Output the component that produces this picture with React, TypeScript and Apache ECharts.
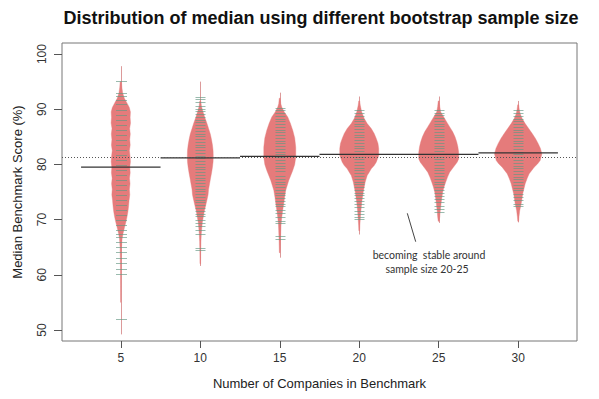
import React, { useEffect, useRef } from "react";
import * as echarts from "echarts";

// ---------- data ----------
const sampleSizes = ["5", "10", "15", "20", "25", "30"];
const beanPositions = [1, 2, 3, 4, 5, 6];
const yTickValues = [50, 60, 70, 80, 90, 100];
const beanMedians = [79.5, 81.2, 81.45, 81.8, 81.8, 82.1];
const overallMedian = 81.3;
const beanMin = [49.2, 61.6, 63.1, 67.3, 69.4, 69.5];
const beanMax = [97.8, 95.0, 93.0, 92.3, 92.3, 91.5];

// density outlines: levels (score) and half widths (x-axis units)
const bean1Levels = [95, 94, 93, 92, 91, 90.3, 89.5, 88.5, 87.5, 86.5, 85.5, 84.5, 83.5, 82.5, 81.5, 80.5, 79.5, 78.5, 77.5, 76.5, 75.5, 74.5, 73.5, 72.5, 71.5, 70.5, 69.5, 68.5, 67.5, 66.5, 65, 63, 61, 58, 55];
const bean1Widths = [0.008, 0.013, 0.023, 0.044, 0.082, 0.107, 0.121, 0.117, 0.122, 0.111, 0.119, 0.112, 0.118, 0.108, 0.116, 0.121, 0.113, 0.118, 0.109, 0.116, 0.108, 0.113, 0.104, 0.098, 0.09, 0.078, 0.063, 0.045, 0.028, 0.016, 0.009, 0.006, 0.004, 0.003, 0.002];
const bean2Levels = [91.5, 90.5, 89.5, 88.5, 87.5, 86.5, 85.5, 84.5, 83.5, 82.5, 81.5, 80.5, 79.5, 78.5, 77.5, 76.5, 75.5, 74.5, 73.5, 72.5, 71.5, 70.5, 69.5, 68.5, 67.5, 66, 64, 62];
const bean2Widths = [0.006, 0.015, 0.035, 0.057, 0.082, 0.104, 0.126, 0.141, 0.153, 0.161, 0.163, 0.161, 0.153, 0.142, 0.129, 0.117, 0.104, 0.098, 0.083, 0.067, 0.05, 0.038, 0.026, 0.019, 0.013, 0.008, 0.005, 0.004];
const bean3Levels = [92, 91, 90.4, 89.5, 88.6, 87.5, 86.2, 84.8, 83.1, 81.3, 80, 78.9, 77.1, 75.3, 74, 72.9, 71.5, 70.4, 69, 68, 66, 64];
const bean3Widths = [0.006, 0.013, 0.025, 0.057, 0.1, 0.132, 0.163, 0.188, 0.201, 0.201, 0.188, 0.163, 0.113, 0.075, 0.06, 0.05, 0.035, 0.025, 0.016, 0.013, 0.008, 0.005];
const bean4Levels = [91.5, 90.7, 89.5, 88.3, 87.4, 86.5, 85.6, 84.7, 83.8, 82.9, 81.6, 80.4, 79.8, 79.2, 78.6, 78, 76.8, 75, 73.1, 71.3, 70.1, 69, 68];
const bean4Widths = [0.006, 0.013, 0.031, 0.063, 0.1, 0.151, 0.188, 0.214, 0.236, 0.245, 0.245, 0.214, 0.188, 0.151, 0.126, 0.1, 0.075, 0.05, 0.031, 0.019, 0.013, 0.008, 0.005];
const bean5Levels = [91.5, 90.5, 89.5, 88.6, 87.7, 86.8, 85.9, 85, 84.1, 83.2, 82.2, 81, 80.4, 79.8, 79.2, 78.6, 77.7, 76.8, 75.9, 75, 73.1, 71.5, 70.5, 69.7];
const bean5Widths = [0.006, 0.013, 0.025, 0.063, 0.1, 0.138, 0.176, 0.205, 0.226, 0.241, 0.251, 0.251, 0.232, 0.201, 0.17, 0.138, 0.111, 0.088, 0.067, 0.05, 0.031, 0.019, 0.013, 0.006];
const bean6Levels = [90.8, 90, 89.2, 88.3, 87.4, 86.5, 85.6, 84.7, 83.8, 82.9, 81.9, 80.7, 80.1, 79.5, 78.9, 78.3, 77.4, 76.5, 74.7, 72.9, 71.6, 70.5, 69.7];
const bean6Widths = [0.006, 0.013, 0.025, 0.05, 0.088, 0.132, 0.176, 0.217, 0.251, 0.28, 0.298, 0.276, 0.245, 0.201, 0.17, 0.138, 0.111, 0.088, 0.057, 0.038, 0.019, 0.01, 0.005];

// bootstrap medians (bean lines)
const bean1Ticks = [95.1, 93.0, 92.4, 91.6, 91.0, 89.8, 88.9, 88.0, 87.1, 86.2, 85.3, 84.4, 83.5, 82.6, 81.7, 80.8, 79.9, 79.0, 78.1, 77.2, 76.3, 75.4, 74.5, 73.6, 72.7, 71.8, 70.9, 70.0, 69.1, 68.2, 67.3, 66.8, 65.9, 65.0, 64.1, 63.1, 62.1, 61.0, 60.1, 52.0];
const bean2Ticks = [92.2, 91.8, 91.3, 90.6, 90.1, 89.6, 89.1, 88.6, 88.1, 87.6, 87.1, 86.6, 86.1, 85.6, 85.1, 84.6, 84.1, 83.6, 83.1, 82.6, 82.1, 81.6, 81.1, 80.6, 80.1, 79.6, 79.1, 78.6, 78.1, 77.6, 77.1, 76.6, 76.1, 75.6, 75.1, 74.6, 74.1, 73.6, 73.1, 72.6, 72.1, 71.6, 71.1, 70.6, 70.0, 69.3, 68.8, 68.1, 67.4, 64.8, 64.4];
const bean3Ticks = [90.3, 89.8, 89.3, 88.8, 88.3, 87.8, 87.3, 86.8, 86.3, 85.8, 85.3, 84.8, 84.3, 83.8, 83.3, 82.8, 82.3, 81.8, 81.3, 80.8, 80.3, 79.8, 79.3, 78.8, 77.9, 77.4, 76.9, 76.4, 75.9, 75.4, 74.9, 74.4, 73.9, 73.4, 72.9, 72.4, 71.8, 71.2, 70.5, 69.8, 69.3, 67.1, 66.5];
const bean4Ticks = [89.8, 89.3, 88.8, 88.3, 87.8, 87.4, 86.9, 86.4, 85.9, 85.4, 84.9, 84.4, 83.9, 83.4, 82.9, 82.4, 81.9, 81.4, 80.9, 80.4, 79.9, 79.4, 78.9, 78.4, 77.9, 77.4, 76.9, 76.4, 75.9, 75.4, 74.9, 74.4, 73.9, 73.4, 72.8, 72.2, 71.5, 71.0, 70.5, 70.1];
const bean5Ticks = [89.9, 89.4, 88.9, 88.4, 87.9, 87.4, 86.9, 86.4, 85.9, 85.4, 84.9, 84.4, 83.9, 83.4, 82.9, 82.4, 81.9, 81.4, 80.9, 80.4, 79.9, 79.4, 78.9, 78.4, 77.9, 77.4, 76.9, 76.4, 75.9, 75.4, 74.9, 74.3, 73.7, 73.1, 72.5, 71.9, 71.3];
const bean6Ticks = [89.8, 89.3, 88.8, 88.3, 87.8, 87.3, 86.8, 86.3, 85.8, 85.3, 84.8, 84.3, 83.8, 83.3, 82.8, 82.3, 81.8, 81.3, 80.8, 80.3, 79.8, 79.3, 78.8, 78.3, 77.8, 77.3, 76.8, 76.3, 75.8, 75.3, 74.7, 74.1, 73.5, 72.9, 72.5];

const titleText = "Distribution of median using different bootstrap sample size";
const xAxisTitle = "Number of Companies in Benchmark";
const yAxisTitle = "Median Benchmark Score (%)";
const noteLines = ["becoming  stable around", "sample size 20-25"];

// ---------- chart ----------
const beanLevels = [bean1Levels, bean2Levels, bean3Levels, bean4Levels, bean5Levels, bean6Levels];
const beanWidths = [bean1Widths, bean2Widths, bean3Widths, bean4Widths, bean5Widths, bean6Widths];
const beanTicks = [bean1Ticks, bean2Ticks, bean3Ticks, bean4Ticks, bean5Ticks, bean6Ticks];

const FONT = "'Liberation Sans', Arial, sans-serif";

function buildOption(): any {
  const beanData = beanPositions.map((p, i) => [p, beanMedians[i]]);
  const tickData: number[][] = [];
  beanTicks.forEach((arr, i) => arr.forEach((v) => tickData.push([beanPositions[i], v])));

  return {
    animation: false,
    backgroundColor: "#ffffff",
    grid: {
      left: 62,
      right: 22,
      top: 43,
      bottom: 58,
      show: true,
      borderColor: "#777",
      borderWidth: 1,
      backgroundColor: "transparent",
    },
    xAxis: {
      type: "value",
      min: 0.26,
      max: 6.74,
      axisLine: { show: false },
      splitLine: { show: false },
      axisTick: {
        show: true,
        length: 7,
        customValues: beanPositions,
        lineStyle: { color: "#555", width: 1 },
      },
      axisLabel: {
        customValues: beanPositions,
        formatter: (v: number) => sampleSizes[Math.round(v) - 1] ?? "",
        fontFamily: FONT,
        fontSize: 12,
        color: "#333",
        margin: 11,
      },
      name: xAxisTitle,
      nameLocation: "middle",
      nameGap: 36,
      nameTextStyle: { fontFamily: FONT, fontSize: 13, color: "#222" },
    },
    yAxis: {
      type: "value",
      min: 48,
      max: 102,
      axisLine: { show: false },
      splitLine: { show: false },
      axisTick: {
        show: true,
        length: 8,
        customValues: yTickValues,
        lineStyle: { color: "#555", width: 1 },
      },
      axisLabel: {
        customValues: yTickValues,
        rotate: 90,
        fontFamily: FONT,
        fontSize: 12,
        color: "#333",
        margin: 14,
      },
      name: yAxisTitle,
      nameLocation: "middle",
      nameGap: 38,
      nameTextStyle: { fontFamily: FONT, fontSize: 13, color: "#222" },
    },
    graphic: [
      {
        type: "text",
        x: 321,
        y: 18,
        style: {
          text: titleText,
          fontFamily: FONT,
          fontSize: 18,
          fontWeight: "bold",
          fill: "#111",
          align: "center",
          verticalAlign: "middle",
          textAlign: "center",
          textVerticalAlign: "middle",
        },
      },
      {
        type: "line",
        shape: { x1: 407.3, y1: 213.3, x2: 415.7, y2: 241.7 },
        style: { stroke: "#444", lineWidth: 1 },
      },
      {
        type: "text",
        x: 429,
        y: 255,
        style: {
          text: noteLines[0],
          fontFamily: "Lato, 'Open Sans', sans-serif",
          fontSize: 10.5,
          fill: "#333",
          align: "center",
          verticalAlign: "middle",
          textAlign: "center",
          textVerticalAlign: "middle",
        },
      },
      {
        type: "text",
        x: 427,
        y: 269,
        style: {
          text: noteLines[1],
          fontFamily: "Lato, 'Open Sans', sans-serif",
          fontSize: 10.5,
          fill: "#333",
          align: "center",
          verticalAlign: "middle",
          textAlign: "center",
          textVerticalAlign: "middle",
        },
      },
    ],
    series: [
      {
        name: "overall",
        type: "line",
        data: [],
        z: 1,
        markLine: {
          silent: true,
          symbol: "none",
          label: { show: false },
          lineStyle: { type: [1, 2], color: "#555", width: 1 },
          data: [{ yAxis: overallMedian }],
        },
      },
      {
        name: "beans",
        type: "custom",
        z: 2,
        data: beanData,
        encode: { x: 0, y: 1 },
        renderItem: (params: any, api: any) => {
          const i = params.dataIndex;
          const pos = beanPositions[i];
          const lv = beanLevels[i];
          const wd = beanWidths[i];
          const right = lv.map((v, k) => api.coord([pos + wd[k], v]));
          const left = lv.map((v, k) => api.coord([pos - wd[k], v])).reverse();
          const top = api.coord([pos, beanMax[i]]);
          const bot = api.coord([pos, beanMin[i]]);
          const cx = Math.round(top[0]) + 0.5;
          return {
            type: "group",
            children: [
              {
                type: "line",
                shape: { x1: cx, y1: top[1], x2: cx, y2: bot[1] },
                style: { stroke: "#dc9a9a", lineWidth: 1 },
              },
              {
                type: "polygon",
                shape: { points: right.concat(left) },
                style: { fill: "#E57B7B", stroke: "#E57B7B", lineWidth: 0.4 },
              },
            ],
          };
        },
      },
      {
        name: "beanlines",
        type: "custom",
        z: 3,
        data: tickData,
        encode: { x: 0, y: 1 },
        renderItem: (params: any, api: any) => {
          const p = api.value(0);
          const c = api.coord([p, api.value(1)]);
          const half = p === 1 ? 5 : 4.5;
          const cx = Math.round(c[0]);
          const y = Math.round(c[1]) + 0.5;
          return {
            type: "line",
            shape: { x1: cx - half, y1: y, x2: cx + half + 1, y2: y },
            style: { stroke: "rgba(100,150,130,0.65)", lineWidth: 1 },
          };
        },
      },
      {
        name: "medians",
        type: "custom",
        z: 4,
        data: beanData,
        encode: { x: 0, y: 1 },
        renderItem: (params: any, api: any) => {
          const p = api.value(0);
          const m = api.value(1);
          const a = api.coord([p - 0.5, m]);
          const b = api.coord([p + 0.5, m]);
          return {
            type: "line",
            shape: { x1: a[0], y1: a[1], x2: b[0], y2: b[1] },
            style: { stroke: "#333", lineWidth: 1.2 },
          };
        },
      },
    ],
  };
}

export default function App() {
  const ref = useRef<HTMLDivElement>(null);
  useEffect(() => {
    if (!ref.current) return;
    const chart = echarts.init(ref.current, null, { renderer: "svg" });
    chart.setOption(buildOption());
    return () => chart.dispose();
  }, []);
  return (
    <div
      ref={ref}
      style={{ position: "fixed", left: 0, top: 0, width: 599, height: 399, background: "#fff" }}
    />
  );
}
